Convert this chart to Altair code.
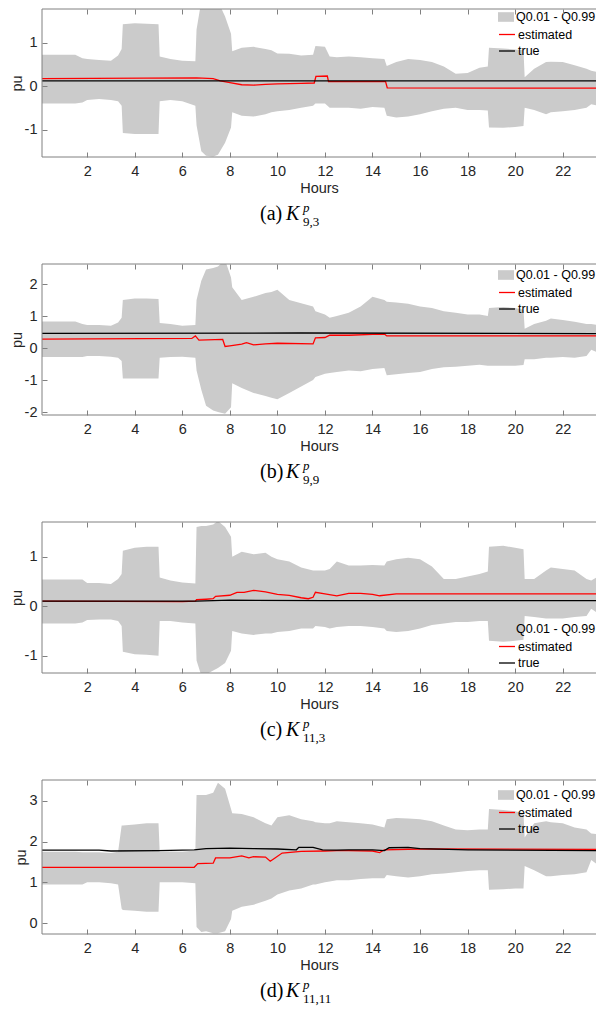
import altair as alt
import pandas as pd

# ---------------- data ----------------
HOURS = [0.1, 0.5, 1.0, 1.5, 1.8, 2.0, 2.5, 3.0, 3.3, 3.45,
         3.5, 4.0, 4.5, 5.0, 5.05, 5.5, 6.0, 6.55, 6.6, 6.8,
         7.0, 7.3, 7.5, 7.8, 8.05, 8.1, 8.5, 9.0, 9.5, 9.75,
         10.0, 10.5, 11.0, 11.5, 11.6, 12.0, 12.2, 12.5, 13.0, 13.5,
         14.0, 14.5, 14.6, 15.0, 15.5, 16.0, 16.5, 17.0, 17.5, 18.0,
         18.5, 18.85, 18.9, 19.5, 20.0, 20.35, 20.4, 20.8, 21.3, 21.5,
         22.0, 22.5, 23.0, 23.2, 23.5, 23.85]

HI_A = [0.72, 0.72, 0.72, 0.72, 0.64, 0.62, 0.60, 0.58, 0.70, 0.85,
        1.42, 1.44, 1.43, 1.42, 0.68, 0.62, 0.58, 0.57, 1.30, 1.95,
        2.00, 2.00, 1.95, 1.60, 1.20, 0.80, 0.88, 0.90, 0.85, 0.82,
        0.75, 0.74, 0.70, 0.72, 0.92, 0.90, 0.68, 0.66, 0.68, 0.66,
        0.64, 0.62, 0.46, 0.55, 0.62, 0.60, 0.55, 0.45, 0.28, 0.30,
        0.42, 0.45, 0.88, 0.86, 0.84, 0.82, 0.20, 0.40, 0.55, 0.56,
        0.55, 0.48, 0.40, 0.35, 0.32, 0.30]
LO_A = [-0.40, -0.40, -0.40, -0.40, -0.38, -0.32, -0.30, -0.32, -0.35, -0.45,
        -1.08, -1.10, -1.10, -1.10, -0.35, -0.32, -0.35, -0.45, -0.90, -1.50,
        -1.60, -1.62, -1.58, -1.30, -0.95, -0.60, -0.68, -0.70, -0.65, -0.60,
        -0.58, -0.55, -0.50, -0.45, -0.40, -0.40, -0.50, -0.50, -0.50, -0.52,
        -0.48, -0.50, -0.68, -0.72, -0.70, -0.65, -0.58, -0.52, -0.50, -0.55,
        -0.55, -0.56, -0.95, -0.96, -0.94, -0.92, -0.50, -0.55, -0.65, -0.60,
        -0.58, -0.55, -0.50, -0.42, -0.45, -0.40]
EST_H_A = [0.1, 6.6, 7.3, 7.6, 8.0, 8.5, 9.0, 9.5, 10.0, 11.0, 11.55, 11.62,
           12.1, 12.15, 14.55, 14.62, 23.85]
EST_A = [0.17, 0.19, 0.17, 0.12, 0.08, 0.03, 0.02, 0.04, 0.05, 0.06, 0.07, 0.22,
         0.23, 0.10, 0.10, -0.04, -0.05]
TRUE_H_A = [0.1, 12.0, 23.85]
TRUE_A = [0.12, 0.12, 0.12]

HI_B = [0.83, 0.83, 0.83, 0.83, 0.75, 0.72, 0.72, 0.70, 0.80, 0.95,
        1.50, 1.55, 1.55, 1.53, 0.78, 0.75, 0.70, 0.72, 1.50, 2.10,
        2.45, 2.50, 2.55, 2.75, 2.20, 1.90, 1.50, 1.60, 1.72, 1.75,
        1.82, 1.50, 1.40, 1.30, 1.15, 1.05, 0.95, 1.00, 1.10, 1.30,
        1.60, 1.50, 1.45, 1.42, 1.38, 1.30, 1.25, 1.15, 1.10, 1.05,
        1.05, 1.00, 1.25, 1.28, 1.25, 1.20, 0.60, 0.75, 0.85, 0.92,
        0.88, 0.82, 0.75, 0.75, 0.72, 0.70]
LO_B = [-0.28, -0.28, -0.28, -0.28, -0.28, -0.25, -0.25, -0.27, -0.30, -0.40,
        -0.95, -0.95, -0.95, -0.95, -0.30, -0.28, -0.27, -0.30, -0.70, -1.30,
        -1.80, -1.95, -2.00, -2.05, -1.85, -1.10, -1.25, -1.40, -1.50, -1.55,
        -1.60, -1.40, -1.20, -1.00, -0.90, -0.80, -0.78, -0.75, -0.70, -0.72,
        -0.65, -0.62, -0.85, -0.82, -0.78, -0.75, -0.65, -0.60, -0.58, -0.55,
        -0.52, -0.55, -0.55, -0.55, -0.55, -0.53, -0.35, -0.35, -0.30, -0.30,
        -0.28, -0.30, -0.25, -0.05, -0.15, -0.20]
EST_H_B = [0.1, 6.4, 6.55, 6.7, 7.7, 7.8, 8.0, 8.5, 8.7, 9.0, 9.5, 10.0, 11.5,
           11.6, 12.0, 12.2, 13.0, 14.0, 14.5, 14.6, 23.85]
EST_B = [0.28, 0.30, 0.38, 0.25, 0.27, 0.05, 0.07, 0.12, 0.17, 0.10, 0.13, 0.15, 0.13,
         0.32, 0.33, 0.40, 0.40, 0.43, 0.44, 0.38, 0.38]
TRUE_H_B = [0.1, 11.0, 23.85]
TRUE_B = [0.46, 0.47, 0.45]

HI_C = [0.54, 0.54, 0.54, 0.54, 0.54, 0.47, 0.47, 0.45, 0.55, 0.65,
        1.12, 1.18, 1.20, 1.20, 0.58, 0.52, 0.48, 0.46, 1.60, 1.62,
        1.62, 1.65, 1.72, 1.60, 1.40, 1.00, 1.10, 1.05, 1.08, 1.00,
        0.95, 0.90, 0.78, 0.72, 0.72, 0.72, 0.75, 0.90, 0.82, 0.82,
        0.83, 0.82, 0.90, 0.95, 0.98, 0.95, 0.80, 0.55, 0.55, 0.60,
        0.65, 0.70, 1.20, 1.22, 1.18, 1.15, 0.55, 0.55, 0.72, 0.78,
        0.75, 0.72, 0.55, 0.52, 0.60, 0.60]
LO_C = [-0.35, -0.35, -0.35, -0.35, -0.33, -0.28, -0.27, -0.27, -0.30, -0.40,
        -0.92, -0.97, -0.98, -1.00, -0.30, -0.30, -0.33, -0.35, -1.10, -1.40,
        -1.38, -1.30, -1.25, -1.15, -0.90, -0.50, -0.55, -0.58, -0.55, -0.55,
        -0.52, -0.50, -0.45, -0.45, -0.40, -0.42, -0.45, -0.42, -0.40, -0.40,
        -0.42, -0.45, -0.50, -0.52, -0.50, -0.45, -0.38, -0.35, -0.32, -0.32,
        -0.30, -0.30, -0.70, -0.72, -0.70, -0.68, -0.20, -0.22, -0.25, -0.25,
        -0.25, -0.22, -0.20, -0.05, -0.15, -0.18]
EST_H_C = [0.1, 6.0, 6.55, 6.6, 7.0, 7.3, 7.4, 8.0, 8.3, 8.6, 9.0, 9.5, 10.0, 10.5,
           11.0, 11.3, 11.5, 11.6, 12.0, 12.5, 13.0, 13.5, 14.0, 14.3, 15.0, 16.0, 23.85]
EST_C = [0.10, 0.09, 0.10, 0.13, 0.14, 0.15, 0.20, 0.22, 0.28, 0.28, 0.32, 0.29, 0.24, 0.22,
         0.17, 0.15, 0.18, 0.28, 0.25, 0.21, 0.26, 0.26, 0.24, 0.21, 0.25, 0.25, 0.25]
TRUE_H_C = [0.1, 6.6, 8.0, 12.0, 23.85]
TRUE_C = [0.10, 0.10, 0.12, 0.11, 0.11]

HI_D = [1.75, 1.75, 1.75, 1.75, 1.74, 1.74, 1.74, 1.72, 1.75, 2.40,
        2.40, 2.42, 2.45, 2.45, 1.75, 1.76, 1.75, 1.78, 3.15, 3.15,
        3.15, 3.20, 3.45, 3.30, 2.80, 2.70, 2.68, 2.60, 2.45, 2.40,
        2.60, 2.65, 2.55, 2.50, 2.48, 2.45, 2.45, 2.50, 2.48, 2.45,
        2.42, 2.35, 2.55, 2.58, 2.57, 2.55, 2.50, 2.40, 2.30, 2.28,
        2.30, 2.30, 2.80, 2.78, 2.75, 2.70, 2.10, 2.45, 2.50, 2.48,
        2.45, 2.35, 2.30, 2.20, 2.18, 2.15]
LO_D = [0.95, 0.95, 0.95, 0.95, 0.95, 1.00, 1.00, 0.98, 0.95, 0.35,
        0.32, 0.30, 0.28, 0.28, 1.00, 1.00, 1.00, 0.98, -0.10, -0.22,
        -0.20, -0.25, -0.25, -0.20, 0.10, 0.30, 0.40, 0.45, 0.55, 0.60,
        0.70, 0.80, 0.85, 0.95, 0.95, 1.00, 1.02, 1.05, 1.05, 1.08,
        1.10, 1.10, 1.18, 1.15, 1.12, 1.15, 1.20, 1.22, 1.25, 1.28,
        1.30, 1.30, 0.82, 0.83, 0.85, 0.85, 1.40, 1.30, 1.15, 1.15,
        1.18, 1.20, 1.25, 1.55, 1.42, 1.42]
EST_H_D = [0.1, 6.5, 6.65, 7.3, 7.4, 8.0, 8.5, 8.8, 9.0, 9.5, 9.7, 9.9, 10.2, 11.0,
           12.0, 12.5, 13.0, 14.0, 14.3, 14.5, 16.0, 23.85]
EST_D = [1.37, 1.37, 1.46, 1.47, 1.60, 1.60, 1.65, 1.60, 1.63, 1.62, 1.52, 1.60, 1.72, 1.76,
         1.77, 1.78, 1.78, 1.77, 1.73, 1.80, 1.82, 1.81]
TRUE_H_D = [0.1, 2.5, 3.0, 5.0, 6.5, 7.0, 8.0, 9.0, 10.0, 10.8, 10.9, 11.5, 11.9, 12.5,
            13.0, 14.0, 14.5, 14.7, 15.5, 16.0, 18.0, 23.85]
TRUE_D = [1.79, 1.79, 1.77, 1.78, 1.80, 1.83, 1.84, 1.83, 1.82, 1.80, 1.86, 1.86, 1.80, 1.79,
          1.80, 1.80, 1.78, 1.85, 1.86, 1.83, 1.80, 1.78]

BAND_HI = [HI_A, HI_B, HI_C, HI_D]
BAND_LO = [LO_A, LO_B, LO_C, LO_D]
EST_HOURS = [EST_H_A, EST_H_B, EST_H_C, EST_H_D]
EST_VALUES = [EST_A, EST_B, EST_C, EST_D]
TRUE_HOURS = [TRUE_H_A, TRUE_H_B, TRUE_H_C, TRUE_H_D]
TRUE_VALUES = [TRUE_A, TRUE_B, TRUE_C, TRUE_D]

BAND_NAME = "Q0.01 - Q0.99"
LINE_NAMES = ["estimated", "true"]
X_TICKS = [2, 4, 6, 8, 10, 12, 14, 16, 18, 20, 22]
X_DOMAIN = [0.1, 23.4]
Y_DOMAINS = [[-1.63, 1.77], [-2.09, 2.625], [-1.35, 1.70], [-0.27, 3.516]]
Y_TICKS = [[-1, 0, 1], [-2, -1, 0, 1, 2], [-1, 0, 1], [0, 1, 2, 3]]
CAPTION_LETTERS = ["(a)", "(b)", "(c)", "(d)"]
CAPTION_SUBS = ["9,3", "9,9", "11,3", "11,11"]
CAPTION_SYMBOL = "K"
CAPTION_SUP = "p"

# ---------------- style ----------------
SANS = "Liberation Sans"
SERIF = "Liberation Serif"
BAND_COLOR = "#cbcbcb"
LINE_COLORS = ["#ff0000", "#000000"]
AXIS_GRAY = "#808080"
TEXT_DARK = "#262626"
TICK_FONT = 14.5
PLOT_W = 554
PANEL_H = [148, 151, 151, 154]
LEGEND_X = 456
LEGEND_Y = [0, 3, 99, 7]
ROW_STEP = 16.5
CAP_X = [218, 244, 261]


def axis(orient, values, **kw):
    return alt.Axis(orient=orient, values=values, offset=-5, tickSize=5, tickWidth=1,
                    tickColor=AXIS_GRAY, domain=False, grid=False, zindex=1, **kw)


def make_panel(i):
    H = PANEL_H[i]
    xsc = alt.Scale(domain=X_DOMAIN, nice=False, zero=False)
    ysc = alt.Scale(domain=Y_DOMAINS[i], nice=False, zero=False)

    band_df = pd.DataFrame({"hour": HOURS, "lo": BAND_LO[i], "hi": BAND_HI[i],
                            "series": BAND_NAME})
    est_df = pd.DataFrame({"hour": EST_HOURS[i], "value": EST_VALUES[i],
                           "series": LINE_NAMES[0]})
    true_df = pd.DataFrame({"hour": TRUE_HOURS[i], "value": TRUE_VALUES[i],
                            "series": LINE_NAMES[1]})

    bottom = axis("bottom", X_TICKS, format="d", title="Hours", labelPadding=7,
                  titlePadding=4, labelFontSize=TICK_FONT, titleFontSize=TICK_FONT,
                  labelColor=TEXT_DARK, titleColor=TEXT_DARK, titleFontWeight="normal",
                  labelFont=SANS, titleFont=SANS)
    left = axis("left", Y_TICKS[i], title="pu", labelPadding=5, titlePadding=0,
                labelExpr="'' + datum.value",
                labelFontSize=TICK_FONT, titleFontSize=TICK_FONT, labelColor=TEXT_DARK,
                titleColor=TEXT_DARK, titleFontWeight="normal", labelFont=SANS,
                titleFont=SANS)
    top = axis("top", X_TICKS, labels=False, title=None)

    band_legend = alt.Legend(title=None, orient="none", legendX=LEGEND_X,
                             legendY=LEGEND_Y[i], padding=0,
                             symbolType="M-1,-0.6H1V0.6H-1Z", symbolSize=256,
                             symbolStrokeWidth=0, labelOffset=2,
                             labelFont=SANS, labelFontSize=12.5, labelColor="#000000")
    line_legend = alt.Legend(title=None, orient="none", legendX=LEGEND_X,
                             legendY=LEGEND_Y[i] + ROW_STEP, padding=0,
                             symbolType="stroke", symbolSize=256, symbolStrokeWidth=1.3,
                             labelOffset=2, rowPadding=0.5,
                             labelFont=SANS, labelFontSize=12.5, labelColor="#000000")

    band = alt.Chart(band_df).mark_area(clip=True).encode(
        x=alt.X("hour:Q", scale=xsc, axis=bottom),
        y=alt.Y("lo:Q", scale=ysc, axis=left),
        y2="hi:Q",
        fill=alt.Fill("series:N", scale=alt.Scale(domain=[BAND_NAME], range=[BAND_COLOR]),
                      legend=band_legend),
    )
    stroke = alt.Stroke("series:N", scale=alt.Scale(domain=LINE_NAMES, range=LINE_COLORS),
                        legend=line_legend)
    est = alt.Chart(est_df).mark_line(clip=True, strokeWidth=1.3).encode(
        x=alt.X("hour:Q", scale=xsc, axis=top),
        y=alt.Y("value:Q", scale=ysc, axis=None),
        stroke=stroke,
    )
    tru = alt.Chart(true_df).mark_line(clip=True, strokeWidth=1.3).encode(
        x=alt.X("hour:Q", scale=xsc, axis=None),
        y=alt.Y("value:Q", scale=ysc, axis=None),
        stroke=stroke,
    )
    # box frame (left, top, bottom); the right side is cut off in the reference
    one = pd.DataFrame({"f": [0]})
    frame_left = alt.Chart(one).mark_rule(color=AXIS_GRAY, strokeWidth=1).encode(
        x=alt.value(0), y=alt.value(0), y2=alt.value("height"))
    frame_top = alt.Chart(one).mark_rule(color=AXIS_GRAY, strokeWidth=1).encode(
        x=alt.value(0), x2=alt.value("width"), y=alt.value(0))
    frame_bottom = alt.Chart(one).mark_rule(color=AXIS_GRAY, strokeWidth=1).encode(
        x=alt.value(0), x2=alt.value("width"), y=alt.value("height"))

    def cap(text, x, y, size, style="normal"):
        return alt.Chart(pd.DataFrame({"t": [text]})).mark_text(
            font=SERIF, fontSize=size, fontStyle=style, align="left",
            baseline="alphabetic", color="#000000").encode(
            text="t:N", x=alt.value(x), y=alt.value(y))

    caption = [
        cap(CAPTION_LETTERS[i], CAP_X[0], H + 63, 20),
        cap(CAPTION_SYMBOL, CAP_X[1], H + 63, 20, "italic"),
        cap(CAPTION_SUP, CAP_X[2], H + 55, 13, "italic"),
        cap(CAPTION_SUBS[i], CAP_X[2], H + 69, 13),
    ]

    return alt.layer(band, est, tru, frame_left, frame_top, frame_bottom,
                     *caption).resolve_axis(
        x="independent", y="independent").properties(width=PLOT_W, height=H)


chart = alt.vconcat(*[make_panel(i) for i in range(4)], spacing=107, bounds="flush")
chart = chart.resolve_scale(fill="independent", stroke="independent").properties(
    padding=0).configure_view(stroke="transparent")

chart.save("out.html", embed_options={"renderer": "svg", "actions": False})
